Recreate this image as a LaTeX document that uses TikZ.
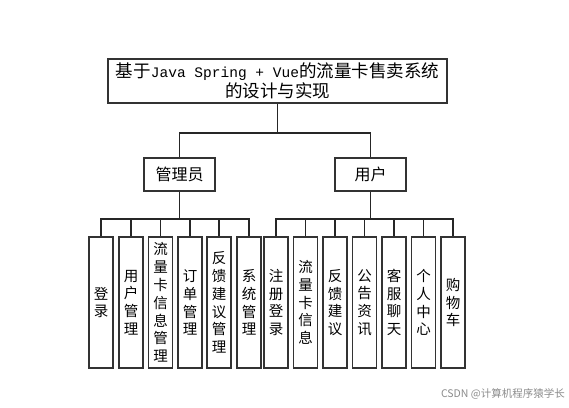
\documentclass[tikz,border=0pt]{standalone}
\usepackage{fontspec}
\setmainfont{Noto Sans CJK SC}
\newfontfamily\monof{Liberation Mono}[Scale=0.83]
\tikzset{
  x=1pt, y=-1pt,
  line/.style={draw=black!85, line width=1.1pt},
  box/.style={draw=black!80, line width=1.1pt, fill=white, inner sep=0pt, align=center},
  titlebox/.style={box, minimum width=339pt, minimum height=44pt, font=\fontsize{17.5}{20}\selectfont},
  rolebox/.style={box, minimum width=71pt, minimum height=33pt, font=\fontsize{16}{18}\selectfont},
  leafbox/.style={box, minimum width=24pt, minimum height=131pt, font=\fontsize{14.5}{17.8}\selectfont},
  wm/.style={text=black!45, font=\fontsize{10.5}{12}\selectfont, inner sep=0pt, anchor=east}
}
\begin{document}
\begin{tikzpicture}
\useasboundingbox (0,0) rectangle (569,407);
\fill[white] (0,0) rectangle (569,407);
% title
\node[titlebox] (title) at (277.5,81) {基于{\monof Java Spring + Vue}的流量卡售卖系统\\的设计与实现};
% roles
\node[rolebox] (adm) at (179.5,174.5) {管理员};
\node[rolebox] (usr) at (370.5,174.5) {用户};
% admin leaves
\node[leafbox] (a1) at (101,302.5) {登\\录};
\node[leafbox] (a2) at (131,302.5) {用\\户\\管\\理};
\node[leafbox] (a3) at (160.5,302.5) {流\\量\\卡\\信\\息\\管\\理};
\node[leafbox] (a4) at (190,302.5) {订\\单\\管\\理};
\node[leafbox] (a5) at (219,302.5) {反\\馈\\建\\议\\管\\理};
\node[leafbox] (a6) at (249,302.5) {系\\统\\管\\理};
% user leaves
\node[leafbox] (u1) at (276,302.5) {注\\册\\登\\录};
\node[leafbox] (u2) at (305.5,302.5) {流\\量\\卡\\信\\息};
\node[leafbox] (u3) at (335,302.5) {反\\馈\\建\\议};
\node[leafbox] (u4) at (364.5,302.5) {公\\告\\资\\讯};
\node[leafbox] (u5) at (394,302.5) {客\\服\\聊\\天};
\node[leafbox] (u6) at (423.5,302.5) {个\\人\\中\\心};
\node[leafbox] (u7) at (453,302.5) {购\\物\\车};
% junctions
\coordinate (tb) at (277.5,133);
\coordinate (ab) at (179.5,219);
\coordinate (ub) at (370.5,219);
% connectors
\draw[line] (title.south) -- (tb);
\draw[line] (adm.north) |- (tb) -| (usr.north);
\draw[line] (adm.south) -- (ab);
\draw[line] (usr.south) -- (ub);
\foreach \n in {a1,a2,a3,a4,a5,a6} \draw[line] (ab) -| (\n.north);
\foreach \n in {u1,u2,u3,u4,u5,u6,u7} \draw[line] (ub) -| (\n.north);
% watermark
\node[wm] (wmk) at (565,394) {CSDN @计算机程序猿学长};
\end{tikzpicture}
\end{document}
